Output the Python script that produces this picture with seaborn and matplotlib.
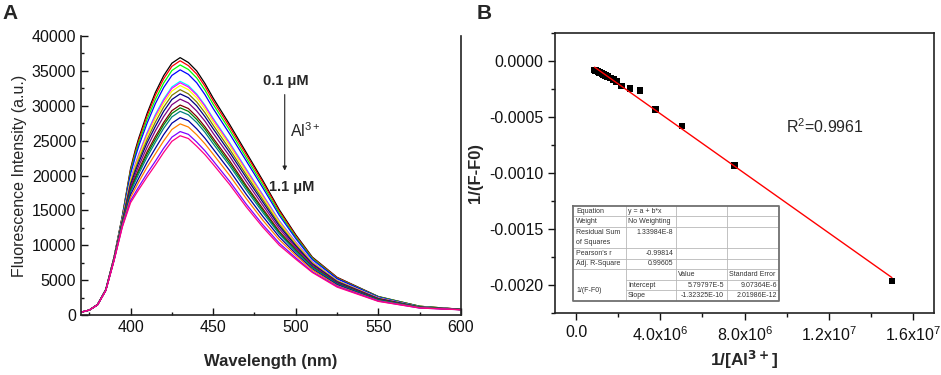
import pandas as pd
import seaborn as sns
import matplotlib.pyplot as plt
from matplotlib.ticker import MultipleLocator, FuncFormatter

# ---- panel A: emission spectra (0.1 -> 1.1 uM Al3+) ----
wavelength = [370, 375, 380, 385, 390, 395, 400, 403, 405, 410, 415, 420, 425, 430,
              435, 440, 445, 450, 460, 470, 480, 490, 500, 510, 525, 550, 575, 600]

s01 = [400, 700, 1500, 3650, 8300, 14200, 21000, 23800, 25400, 28900, 31900, 34300, 36100, 36900,
       36200, 35000, 33200, 31100, 27300, 23300, 19300, 15100, 11500, 8300, 5400, 2650, 1250, 820]
s02 = [400, 700, 1500, 3650, 8300, 14100, 20800, 23500, 25100, 28550, 31500, 33850, 35650, 36450,
       35750, 34550, 32800, 30700, 26950, 23000, 19050, 14900, 11350, 8200, 5350, 2600, 1250, 820]
s03 = [400, 700, 1500, 3650, 8250, 14050, 20550, 23150, 24700, 28050, 30900, 33250, 35050, 35850,
       35200, 34000, 32250, 30200, 26500, 22550, 18650, 14600, 11150, 8100, 5250, 2600, 1250, 810]
s04 = [400, 700, 1500, 3650, 8200, 13950, 20250, 22750, 24250, 27500, 30300, 32600, 34350, 35150,
       34500, 33300, 31600, 29600, 25950, 22100, 18250, 14300, 10950, 7950, 5200, 2550, 1200, 810]
s05 = [400, 700, 1500, 3600, 8150, 13700, 19500, 21750, 23100, 26150, 28750, 30950, 32700, 33500,
       32900, 31700, 30100, 28200, 24700, 20950, 17250, 13550, 10450, 7650, 4950, 2450, 1150, 800]
s06 = [400, 700, 1500, 3600, 8150, 13700, 19400, 21650, 23000, 26000, 28550, 30750, 32500, 33300,
       32700, 31550, 29950, 28050, 24550, 20800, 17150, 13450, 10400, 7600, 4950, 2450, 1150, 800]
s07 = [400, 700, 1480, 3600, 8100, 13650, 19250, 21400, 22700, 25650, 28200, 30350, 32100, 32900,
       32300, 31150, 29550, 27700, 24250, 20500, 16900, 13300, 10250, 7500, 4900, 2400, 1150, 800]
s08 = [400, 700, 1480, 3590, 8100, 13550, 18950, 21050, 22300, 25150, 27650, 29800, 31500, 32300,
       31700, 30550, 29000, 27200, 23750, 20100, 16550, 13000, 10050, 7400, 4850, 2350, 1150, 790]
s09 = [400, 700, 1480, 3580, 8050, 13450, 18700, 20700, 21900, 24700, 27050, 29200, 30900, 31700,
       31150, 30000, 28450, 26700, 23300, 19700, 16200, 12750, 9900, 7300, 4750, 2350, 1150, 790]
s10 = [400, 700, 1470, 3570, 8050, 13350, 18400, 20250, 21400, 24050, 26400, 28450, 30150, 30950,
       30400, 29250, 27800, 26050, 22750, 19150, 15750, 12400, 9650, 7150, 4650, 2300, 1100, 780]
s11 = [400, 700, 1470, 3560, 8000, 13250, 18050, 19800, 20850, 23400, 25600, 27600, 29300, 30100,
       29600, 28450, 27000, 25350, 22100, 18550, 15250, 12000, 9400, 6950, 4550, 2250, 1100, 780]
s12 = [400, 700, 1470, 3550, 7980, 13150, 17850, 19550, 20600, 23050, 25200, 27250, 28900, 29700,
       29200, 28050, 26650, 25000, 21750, 18300, 15000, 11800, 9250, 6900, 4500, 2200, 1100, 775]
s13 = [400, 700, 1470, 3550, 7950, 13100, 17650, 19250, 20250, 22650, 24750, 26750, 28400, 29200,
       28700, 27600, 26200, 24550, 21400, 17950, 14700, 11600, 9100, 6800, 4450, 2150, 1100, 770]
s14 = [400, 700, 1460, 3530, 7900, 12950, 17250, 18700, 19650, 21900, 23900, 25850, 27500, 28300,
       27850, 26700, 25350, 23800, 20700, 17300, 14150, 11200, 8800, 6600, 4350, 2100, 1050, 765]
s15 = [400, 700, 1460, 3520, 7880, 12850, 16850, 18200, 19100, 21200, 23100, 24950, 26600, 27400,
       26950, 25850, 24550, 23050, 20000, 16700, 13600, 10800, 8550, 6450, 4200, 2050, 1050, 760]
s16 = [400, 700, 1450, 3510, 7830, 12700, 16400, 17600, 18400, 20300, 22050, 23900, 25500, 26300,
       25900, 24800, 23550, 22100, 19150, 15900, 12950, 10300, 8200, 6200, 4100, 2000, 1000, 755]
s17 = [400, 700, 1450, 3500, 7800, 12600, 16100, 17250, 18000, 19800, 21500, 23300, 24900, 25700,
       25300, 24200, 23000, 21600, 18700, 15500, 12600, 10000, 8000, 6100, 4000, 1950, 1000, 750]

spectra = [s01, s02, s03, s04, s05, s06, s07, s08, s09, s10, s11, s12, s13, s14, s15, s16, s17]
curve_colors = ['#000000', '#FF0000', '#00FF00', '#0000FF', '#00FFFF', '#FF00FF', '#FFFF00',
                '#808000', '#000080', '#800080', '#800000', '#008000', '#008080', '#0000A0',
                '#FF8000', '#8000FF', '#FF0080']

# ---- panel B: double reciprocal plot ----
inv_al = [0.88e6, 0.93e6, 0.98e6, 1.04e6, 1.10e6, 1.16e6, 1.23e6, 1.31e6, 1.40e6, 1.50e6,
          1.62e6, 1.76e6, 1.92e6, 2.17e6, 2.56e6, 3.04e6, 3.78e6, 5.03e6, 7.54e6, 15.0e6]
inv_dF = [-0.80e-4, -0.85e-4, -0.90e-4, -0.96e-4, -1.02e-4, -1.08e-4, -1.15e-4, -1.22e-4,
          -1.30e-4, -1.40e-4, -1.52e-4, -1.65e-4, -1.85e-4, -2.23e-4, -2.44e-4, -2.60e-4,
          -4.32e-4, -5.80e-4, -9.32e-4, -19.64e-4]

fit_rows = [('Equation', 'y = a + b*x', '', ''),
            ('Weight', 'No Weighting', '', ''),
            ('Residual Sum\nof Squares', '1.33984E-8', '', ''),
            ("Pearson's r", '-0.99814', '', ''),
            ('Adj. R-Square', '0.99605', '', ''),
            ('', '', 'Value', 'Standard Error'),
            ('1/(F-F0)', 'Intercept', '5.79797E-5', '9.07364E-6'),
            ('', 'Slope', '-1.32325E-10', '2.01986E-12')]

sns.set_style('ticks')
plt.rcParams['font.family'] = ['Liberation Sans', 'DejaVu Sans']
plt.rcParams['mathtext.default'] = 'regular'
plt.rcParams['axes.unicode_minus'] = False

fig = plt.figure(figsize=(9.41, 3.75), dpi=100)
axA = fig.add_axes([0.0861, 0.16, 0.4038, 0.744])
axB = fig.add_axes([0.5898, 0.1653, 0.4028, 0.7467])

long = []
for i, s in enumerate(spectra):
    for w, v in zip(wavelength, s):
        long.append((f'c{i:02d}', w, v))
df = pd.DataFrame(long, columns=['curve', 'wavelength', 'intensity'])
sns.lineplot(data=df, x='wavelength', y='intensity', hue='curve', palette=curve_colors,
             legend=False, lw=0.9, estimator=None, ax=axA)

axA.set_xlim(370, 600)
axA.set_ylim(0, 40000)
axA.xaxis.set_major_locator(MultipleLocator(50))
axA.xaxis.set_minor_locator(MultipleLocator(25))
axA.yaxis.set_major_locator(MultipleLocator(5000))
axA.yaxis.set_minor_locator(MultipleLocator(2500))
axA.tick_params(which='both', direction='in', width=1, labelsize=11.5, colors='#111')
axA.tick_params(which='major', length=5)
axA.tick_params(which='minor', length=2.5)
axA.spines['top'].set_visible(False)
for sp in axA.spines.values():
    sp.set_linewidth(1.2)
    sp.set_color('#222')
axA.set_xlabel('Wavelength (nm)', fontsize=12, fontweight='bold', labelpad=14)
axA.set_ylabel('Fluorescence Intensity (a.u.)', fontsize=11.5, labelpad=3)

axA.text(480, 33600, '0.1 μM', fontsize=10.5, fontweight='bold', va='center')
axA.text(484, 18300, '1.1 μM', fontsize=10.5, fontweight='bold', va='center')
axA.text(496.5, 26500, 'Al$^{3+}$', fontsize=11.5, va='center')
axA.annotate('', xy=(493.3, 20300), xytext=(493.3, 32000),
             arrowprops=dict(arrowstyle='-|>', color='#222', lw=0.8, mutation_scale=6))

sns.regplot(x=inv_al, y=inv_dF, ax=axB, ci=None, marker='s',
            scatter_kws=dict(color='black', s=24, zorder=3, edgecolors='none', alpha=1),
            line_kws=dict(color='red', lw=1, zorder=4))

axB.set_xlim(-1e6, 17e6)
axB.set_ylim(-0.00225, 0.00025)
axB.xaxis.set_major_locator(MultipleLocator(4e6))
axB.xaxis.set_minor_locator(MultipleLocator(2e6))
axB.yaxis.set_major_locator(MultipleLocator(0.0005))
axB.yaxis.set_minor_locator(MultipleLocator(0.00025))


def sci(v, pos):
    if abs(v) < 1:
        return '0.0'
    exp = len(str(int(abs(v)))) - 1
    return f'{v / 10 ** exp:.1f}x10$^{{{exp}}}$'


axB.xaxis.set_major_formatter(FuncFormatter(sci))
axB.yaxis.set_major_formatter(FuncFormatter(lambda v, p: f'{v:.4f}'))
axB.tick_params(which='both', direction='out', width=1, labelsize=11.5, colors='#111')
axB.tick_params(which='major', length=5)
axB.tick_params(which='minor', length=3)
for sp in axB.spines.values():
    sp.set_linewidth(1.2)
    sp.set_color('#222')
axB.set_xlabel(r'1/[Al$^{\mathbf{3+}}$]', fontsize=12.5, fontweight='bold', labelpad=4)
axB.set_ylabel('1/(F-F0)', fontsize=12, fontweight='bold', labelpad=4)
axB.text(9.96e6, -0.000589, 'R$^{2}$=0.9961', fontsize=11.5, va='center')

# fit result table (Origin style)
tab = axB.inset_axes([0.048, 0.043, 0.544, 0.34])
tab.set_xlim(0, 1)
tab.set_ylim(9, 0)
tab.axis('off')
col_edges = [0, 0.254, 0.498, 0.744, 1.0]
row_top = [0, 1, 2, 4, 5, 6, 7, 8]
row_h = [1, 1, 2, 1, 1, 1, 1, 1]
grid_c = '#b8b8b8'
for y in [1, 2, 4, 5, 6]:
    tab.plot([0, 1], [y, y], color=grid_c, lw=0.6)
for y in [7, 8]:
    tab.plot([col_edges[1], 1], [y, y], color=grid_c, lw=0.6)
for x in col_edges[1:-1]:
    tab.plot([x, x], [0, 9], color=grid_c, lw=0.6)
tab.plot([0, 1, 1, 0, 0], [0, 0, 9, 9, 0], color='#707070', lw=1.3, clip_on=False)
fs = 5.0
tc = '#333333'
for (c1, c2, c3, c4), top, h in zip(fit_rows, row_top, row_h):
    yc = top + h / 2
    if c1 == '1/(F-F0)':
        tab.text(0.015, 8, c1, fontsize=fs, color=tc, va='center')
    elif c1:
        tab.text(0.015, yc, c1, fontsize=fs, color=tc, va='center', linespacing=1.6)
    ytop = top + 0.5
    if c2 and c2[0].isalpha() or c2.startswith('y'):
        tab.text(col_edges[1] + 0.012, ytop, c2, fontsize=fs, color=tc, va='center')
    elif c2:
        tab.text(col_edges[2] - 0.012, ytop, c2, fontsize=fs, color=tc, va='center', ha='right')
    if c3 == 'Value':
        tab.text(col_edges[2] + 0.012, ytop, c3, fontsize=fs, color=tc, va='center')
        tab.text(col_edges[3] + 0.012, ytop, c4, fontsize=fs, color=tc, va='center')
    elif c3:
        tab.text(col_edges[3] - 0.012, ytop, c3, fontsize=fs, color=tc, va='center', ha='right')
        tab.text(col_edges[4] - 0.012, ytop, c4, fontsize=fs, color=tc, va='center', ha='right')

fig.text(0.003, 0.965, 'A', fontsize=15, fontweight='bold', va='center')
fig.text(0.507, 0.965, 'B', fontsize=15, fontweight='bold', va='center')

fig.savefig('out.png', dpi=100)
